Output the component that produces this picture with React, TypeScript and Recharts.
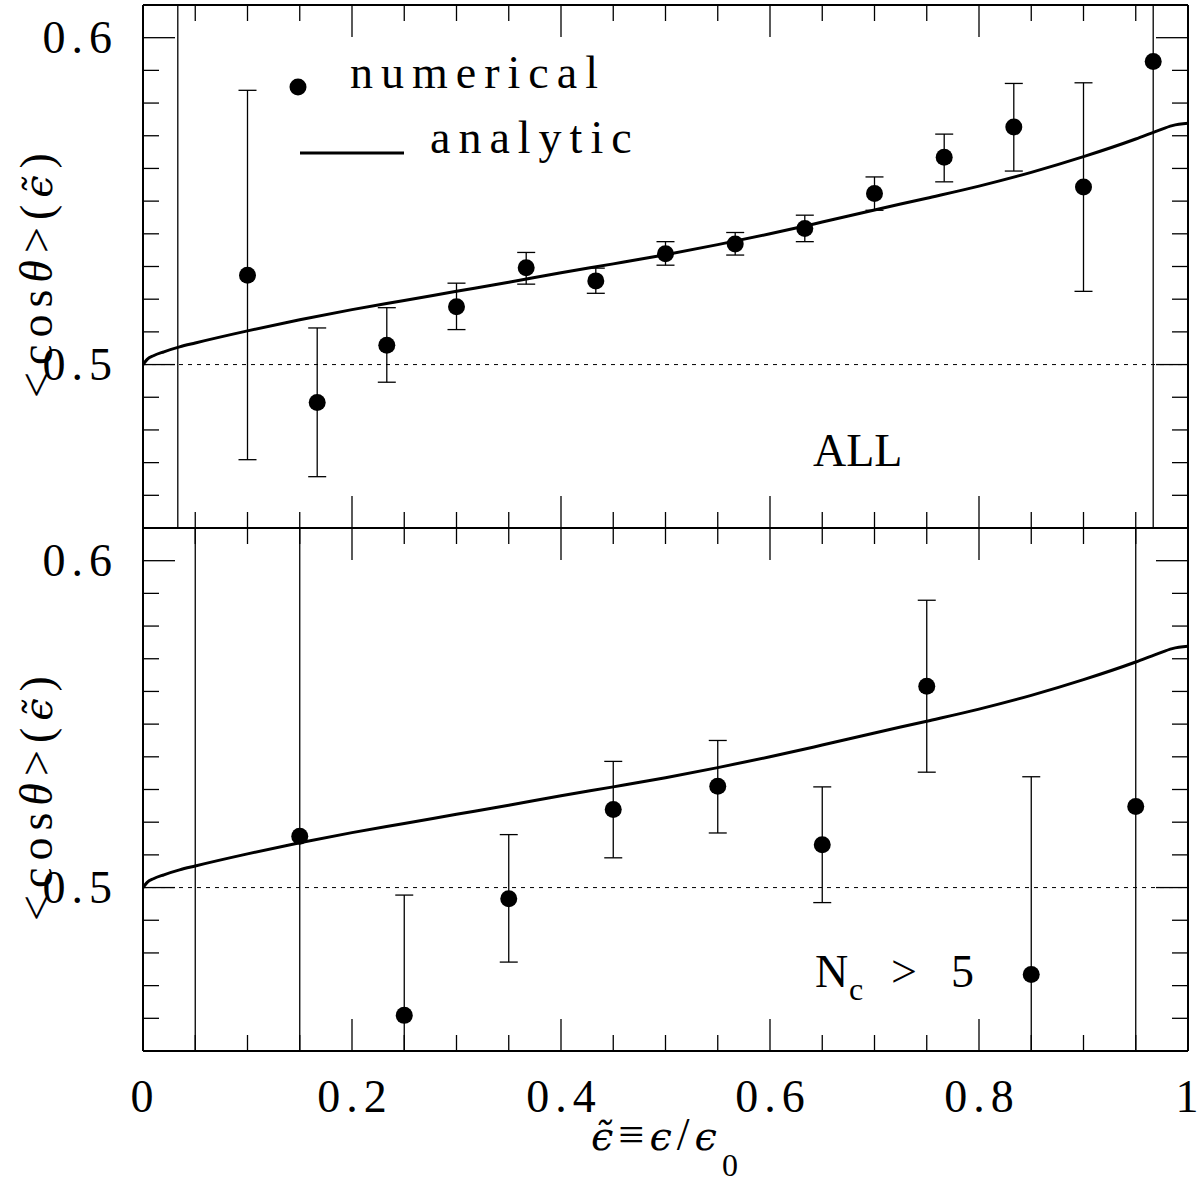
import React from "react";
import { ComposedChart, Line, Scatter, ErrorBar, XAxis, YAxis, ReferenceLine } from "recharts";

const FONT = '"Liberation Serif", "Times New Roman", serif';
const SYM = '"DejaVu Serif", serif';

// analytic curve (same in both panels)
const curveX = [0, 0.004, 0.01, 0.02, 0.035, 0.05, 0.1, 0.15, 0.2, 0.25, 0.3, 0.35, 0.4, 0.45, 0.5, 0.55, 0.6, 0.65, 0.7, 0.75, 0.8, 0.85, 0.9, 0.95, 0.97, 0.985, 1.0];
const curveY = [0.5, 0.5016, 0.5027, 0.5039, 0.5054, 0.5066, 0.5103, 0.5137, 0.5168, 0.5196, 0.5224, 0.5252, 0.5281, 0.5308, 0.5336, 0.5367, 0.54, 0.5436, 0.5473, 0.5509, 0.5546, 0.5588, 0.5636, 0.569, 0.5714, 0.5731, 0.5738];

// top panel: ALL
const allX = [0.0333, 0.1, 0.1667, 0.2333, 0.3, 0.3667, 0.4333, 0.5, 0.5667, 0.6333, 0.7, 0.7667, 0.8333, 0.9, 0.9667];
const allY = [0.43, 0.5273, 0.4884, 0.5059, 0.5177, 0.5296, 0.5256, 0.5339, 0.5369, 0.5416, 0.5523, 0.5634, 0.5727, 0.5543, 0.5927];
const allLo = [0.4, 0.4709, 0.4657, 0.4946, 0.5107, 0.5246, 0.5218, 0.5304, 0.5335, 0.5376, 0.5472, 0.5559, 0.5592, 0.5224, 0.44];
const allHi = [0.63, 0.5839, 0.5112, 0.5174, 0.5249, 0.5343, 0.5295, 0.5376, 0.5404, 0.5457, 0.5574, 0.5705, 0.586, 0.5862, 0.63];

// bottom panel: Nc > 5
const ncX = [0.05, 0.15, 0.25, 0.35, 0.45, 0.55, 0.65, 0.75, 0.85, 0.95];
const ncY = [0.43, 0.5157, 0.4609, 0.4966, 0.5239, 0.531, 0.5131, 0.5616, 0.4734, 0.5248];
const ncLo = [0.4, 0.44, 0.44, 0.4772, 0.5091, 0.5167, 0.4954, 0.5353, 0.44, 0.44];
const ncHi = [0.63, 0.63, 0.4977, 0.5162, 0.5386, 0.545, 0.5308, 0.5879, 0.5339, 0.63];

const xTicks = [0, 0.05, 0.1, 0.15, 0.2, 0.25, 0.3, 0.35, 0.4, 0.45, 0.5, 0.55, 0.6, 0.65, 0.7, 0.75, 0.8, 0.85, 0.9, 0.95, 1];
const xMajor = [0, 0.2, 0.4, 0.6, 0.8, 1];
const xLabels = ["0", "0.2", "0.4", "0.6", "0.8", "1"];
const yTicks = [0.45, 0.46, 0.47, 0.48, 0.49, 0.5, 0.51, 0.52, 0.53, 0.54, 0.55, 0.56, 0.57, 0.58, 0.59, 0.6, 0.61];
const yMajor = [0.5, 0.6];
const yLabels = ["0.5", "0.6"];

const curve = curveX.map((x, i) => ({ x, y: curveY[i] }));
const toPts = (xs: number[], ys: number[], lo: number[], hi: number[]) =>
  xs.map((x, i) => ({ x, y: ys[i], err: [ys[i] - lo[i], hi[i] - ys[i]] }));
const allPts = toPts(allX, allY, allLo, allHi);
const ncPts = toPts(ncX, ncY, ncLo, ncHi);

const findIdx = (arr: number[], v: number) => arr.findIndex((a) => Math.abs(a - v) < 1e-6);

const XTick = (props: any) => {
  const { x, y, payload, dir, showLabel } = props;
  const i = findIdx(xMajor, payload.value);
  const len = i >= 0 ? 32 : 16;
  const label = i >= 0 ? xLabels[i] : "";
  return (
    <g>
      <line x1={x} x2={x} y1={y} y2={y + dir * len} stroke="#000" strokeWidth={1.3} />
      {showLabel && i >= 0 && (
        <text x={label.length > 1 ? x + 3 : x - 1} y={y + 61} textAnchor="middle" fontFamily={FONT} fontSize={46}
          letterSpacing={label.length > 1 ? 6 : 0} fill="#000">
          {label}
        </text>
      )}
    </g>
  );
};

const YTick = (props: any) => {
  const { x, y, payload, dir, showLabel } = props;
  const i = findIdx(yMajor, payload.value);
  const len = i >= 0 ? 32 : 16;
  return (
    <g>
      <line x1={x} x2={x + dir * len} y1={y} y2={y} stroke="#000" strokeWidth={1.3} />
      {showLabel && i >= 0 && (
        <text x={x - 25} y={y + 15} textAnchor="end" fontFamily={FONT} fontSize={46} letterSpacing={6} fill="#000">
          {yLabels[i]}
        </text>
      )}
    </g>
  );
};

const Dot = (p: any) => <circle cx={p.cx} cy={p.cy} r={8.5} fill="#000" />;

const axisLine = { stroke: "#000", strokeWidth: 2 };

const Panel = ({ pts, bottomLabels, children, height, margin }: any) => (
  <ComposedChart width={1202} height={height} margin={margin}>
    <XAxis xAxisId="b" type="number" dataKey="x" domain={[0, 1]} allowDataOverflow ticks={xTicks} interval={0}
      height={1} tickSize={0} tickMargin={0} axisLine={axisLine} tickLine={false}
      tick={(p: any) => <XTick {...p} dir={-1} showLabel={bottomLabels} />} />
    <XAxis xAxisId="t" orientation="top" type="number" dataKey="x" domain={[0, 1]} allowDataOverflow ticks={xTicks} interval={0}
      height={1} tickSize={0} tickMargin={0} axisLine={axisLine} tickLine={false}
      tick={(p: any) => <XTick {...p} dir={1} showLabel={false} />} />
    <YAxis yAxisId="l" type="number" domain={[0.45, 0.61]} allowDataOverflow ticks={yTicks} interval={0}
      width={1} tickSize={0} tickMargin={0} axisLine={axisLine} tickLine={false}
      tick={(p: any) => <YTick {...p} dir={1} showLabel />} />
    <YAxis yAxisId="r" orientation="right" type="number" domain={[0.45, 0.61]} allowDataOverflow ticks={yTicks} interval={0}
      width={1} tickSize={0} tickMargin={0} axisLine={axisLine} tickLine={false}
      tick={(p: any) => <YTick {...p} dir={-1} showLabel={false} />} />
    <ReferenceLine xAxisId="b" yAxisId="l" y={0.5} stroke="#000" strokeWidth={1} strokeDasharray="4 5" />
    <Line xAxisId="b" yAxisId="l" data={curve} dataKey="y" type="monotone" dot={false} stroke="#000" strokeWidth={3} isAnimationActive={false} />
    <Scatter xAxisId="b" yAxisId="l" data={pts} dataKey="y" shape={Dot} isAnimationActive={false}>
      <ErrorBar dataKey="err" direction="y" width={9} stroke="#000" strokeWidth={1.3} isAnimationActive={false} />
    </Scatter>
    {children}
  </ComposedChart>
);

const Eps = ({ tilde }: { tilde?: boolean }) => (
  <tspan fontFamily={SYM} fontStyle="italic" fontSize={40}>{tilde ? "ϵ\u0303" : "ϵ"}</tspan>
);

const YLabel = ({ cy }: { cy: number }) => (
  <text transform={`translate(52,${cy}) rotate(-90)`} textAnchor="middle" fontFamily={FONT} fontSize={46} letterSpacing={7} fill="#000">
    {"<cos"}
    <tspan fontStyle="italic">θ</tspan>
    {">("}
    <Eps tilde />
    {")"}
  </text>
);

export default function App() {
  return (
    <div style={{ position: "absolute", left: 0, top: 0, width: 1202, height: 1183, background: "#fff" }}>
      <style>{`.pt .recharts-errorBars, .pt .recharts-errorBar { clip-path: url(#clipTop); }
.pb .recharts-errorBars, .pb .recharts-errorBar { clip-path: url(#clipBot); }`}</style>
      <div className="pt" style={{ position: "absolute", left: 0, top: 0 }}>
        <Panel pts={allPts} bottomLabels={false} height={540} margin={{ top: 4, right: 13, bottom: 11, left: 142 }}>
          <defs>
            <clipPath id="clipTop">
              <rect x={143} y={5} width={1045} height={523} />
            </clipPath>
          </defs>
          <YLabel cy={272} />
          <circle cx={298} cy={87} r={8.5} fill="#000" />
          <text x={350} y={88} fontFamily={FONT} fontSize={46} letterSpacing={8} fill="#000">numerical</text>
          <line x1={300} x2={404} y1={153} y2={153} stroke="#000" strokeWidth={3} />
          <text x={430} y={153} fontFamily={FONT} fontSize={46} letterSpacing={8} fill="#000">analytic</text>
          <text x={813} y={466} fontFamily={FONT} fontSize={46} fill="#000">ALL</text>
        </Panel>
      </div>
      <div className="pb" style={{ position: "absolute", left: 0, top: 500 }}>
        <Panel pts={ncPts} bottomLabels height={683} margin={{ top: 27, right: 13, bottom: 131, left: 142 }}>
          <defs>
            <clipPath id="clipBot">
              <rect x={143} y={28} width={1045} height={523} />
            </clipPath>
          </defs>
          <YLabel cy={295} />
          <text x={815} y={487} fontFamily={FONT} fontSize={46} fill="#000">N</text>
          <text x={849} y={500} fontFamily={FONT} fontSize={32} fill="#000">c</text>
          <text x={891} y={487} fontFamily={FONT} fontSize={46} fill="#000">&gt;</text>
          <text x={951} y={487} fontFamily={FONT} fontSize={46} fill="#000">5</text>
          <text x={667} y={650} textAnchor="middle" fontFamily={FONT} fontSize={46} letterSpacing={5} fill="#000">
            <Eps tilde />
            {"≡"}
            <Eps />
            {"/"}
            <Eps />
            <tspan fontSize={32} dy={26}>0</tspan>
          </text>
        </Panel>
      </div>
    </div>
  );
}
